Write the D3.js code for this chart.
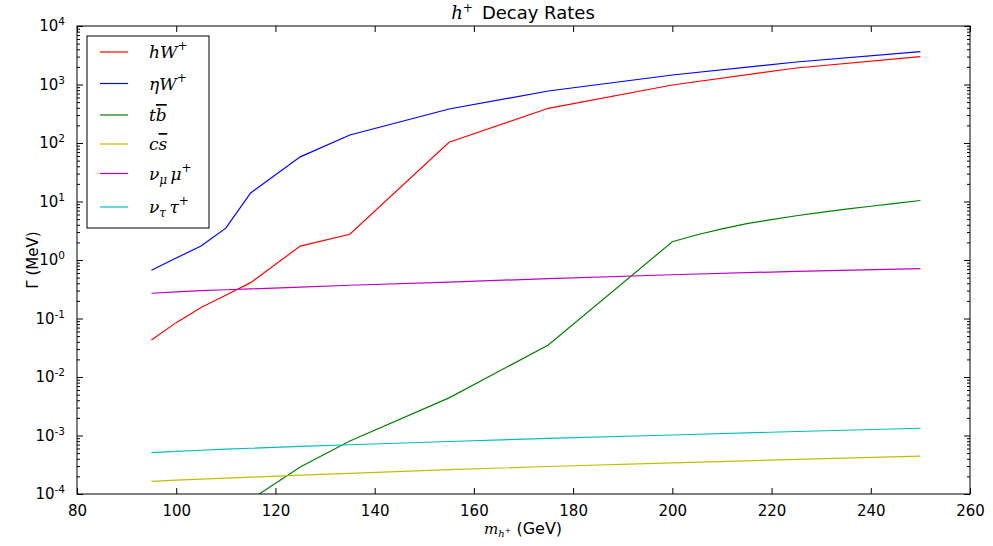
<!DOCTYPE html>
<html>
<head>
<meta charset="utf-8">
<script src="https://cdn.jsdelivr.net/npm/d3@7"></script>
<style>
  body { margin: 0; background: #fff; }
  svg { display: block; }
</style>
</head>
<body>
<svg id="chart" width="993" height="546" font-family="DejaVu Sans, sans-serif"></svg>
<script>
// Charged Higgs mass points (GeV)
const masses = [95, 100, 105, 110, 115, 125, 135, 155, 175, 200, 225, 250];
// Partial widths (MeV) on the common mass grid
const hW    = [0.043, 0.085, 0.154, 0.25, 0.41, 1.73, 2.75, 103, 392, 980, 1915, 2990];
const etaW  = [0.67, 1.08, 1.73, 3.5, 14, 58, 137, 381, 774, 1454, 2426, 3640];
const cs    = [1.65e-4, 1.73e-4, 1.8e-4, 1.87e-4, 1.94e-4, 2.1e-4, 2.25e-4, 2.6e-4, 2.95e-4, 3.4e-4, 3.9e-4, 4.45e-4];
const numu  = [0.27, 0.285, 0.30, 0.31, 0.32, 0.345, 0.37, 0.42, 0.48, 0.56, 0.64, 0.71];
const nutau = [5.1e-4, 5.35e-4, 5.6e-4, 5.85e-4, 6.05e-4, 6.5e-4, 6.95e-4, 7.9e-4, 8.9e-4, 1.02e-3, 1.17e-3, 1.33e-3];
// t b-bar channel has its own, finer grid above threshold
const tbMasses = [115, 125, 135, 155, 175, 200, 205, 210, 215, 220, 225, 230, 235, 240, 245, 250];
const tb       = [8e-5, 2.9e-4, 8.05e-4, 4.4e-3, 0.0352, 2.05, 2.7, 3.4, 4.2, 4.9, 5.7, 6.5, 7.4, 8.3, 9.3, 10.4];

const xTicks = [80, 100, 120, 140, 160, 180, 200, 220, 240, 260];
const yExponents = [-4, -3, -2, -1, 0, 1, 2, 3, 4];

const series = [
  { key: "hW",    color: "#ff0000", xs: masses,   ys: hW },
  { key: "etaW",  color: "#0000ff", xs: masses,   ys: etaW },
  { key: "tb",    color: "#008000", xs: tbMasses, ys: tb },
  { key: "cs",    color: "#bfbf00", xs: masses,   ys: cs },
  { key: "numu",  color: "#bf00bf", xs: masses,   ys: numu },
  { key: "nutau", color: "#00bfbf", xs: masses,   ys: nutau }
];

const L = 77, R = 970, T = 26, B = 494;
const svg = d3.select("#chart");
const x = d3.scaleLinear().domain([80, 260]).range([L, R]);
const y = d3.scaleLog().domain([1e-4, 1e4]).range([B, T]);
const mathFont = "DejaVu Serif, serif";

svg.append("defs").append("clipPath").attr("id", "plotclip")
  .append("rect").attr("x", L).attr("y", T).attr("width", R - L).attr("height", B - T);

// data lines
const line = d3.line().x(d => x(d[0])).y(d => y(d[1]));
const plot = svg.append("g").attr("clip-path", "url(#plotclip)");
series.forEach(s => {
  plot.append("path")
    .datum(s.xs.map((m, i) => [m, s.ys[i]]))
    .attr("d", line)
    .attr("fill", "none")
    .attr("stroke", s.color)
    .attr("stroke-width", 1.2);
});

// minor log ticks
const minor = [];
for (let e = -4; e < 4; e++) for (let k = 2; k <= 9; k++) minor.push(k * Math.pow(10, e));
const majorY = yExponents.map(e => Math.pow(10, e));

function styleAxis(g) {
  g.select(".domain").remove();
  g.selectAll("line").attr("stroke", "#000").attr("stroke-width", 1);
}

// left axis: inward ticks
svg.append("g").attr("transform", `translate(${L},0)`)
  .call(d3.axisLeft(y).tickValues(minor).tickSize(-3).tickFormat(""))
  .call(styleAxis).selectAll("text").remove();
const leftMajor = svg.append("g").attr("transform", `translate(${L},0)`)
  .call(d3.axisLeft(y).tickValues(majorY).tickSize(-6).tickPadding(12).tickFormat(""))
  .call(styleAxis);
leftMajor.selectAll(".tick text").each(function(d) {
  const t = d3.select(this);
  const e = Math.round(Math.log10(d));
  t.attr("font-size", 15).attr("font-family", "DejaVu Sans, sans-serif").attr("fill", "#000").attr("dy", "0.32em");
  t.append("tspan").text("10");
  t.append("tspan").attr("font-size", 10.5).attr("dy", "-0.6em").text(String(e));
});

// right axis: inward ticks
svg.append("g").attr("transform", `translate(${R},0)`)
  .call(d3.axisRight(y).tickValues(minor).tickSize(-3).tickFormat(""))
  .call(styleAxis).selectAll("text").remove();
svg.append("g").attr("transform", `translate(${R},0)`)
  .call(d3.axisRight(y).tickValues(majorY).tickSize(-6).tickFormat(""))
  .call(styleAxis).selectAll("text").remove();

// bottom axis
svg.append("g").attr("transform", `translate(0,${B})`)
  .call(d3.axisBottom(x).tickValues(xTicks).tickSize(-6).tickPadding(11).tickFormat(d3.format("d")))
  .call(styleAxis)
  .selectAll("text").attr("font-size", 15).attr("fill", "#000").attr("font-family", "DejaVu Sans, sans-serif");

// top axis
svg.append("g").attr("transform", `translate(0,${T})`)
  .call(d3.axisTop(x).tickValues(xTicks).tickSize(-6).tickFormat(""))
  .call(styleAxis).selectAll("text").remove();

// frame
svg.append("rect").attr("x", L).attr("y", T).attr("width", R - L).attr("height", B - T)
  .attr("fill", "none").attr("stroke", "#000").attr("stroke-width", 1);

// title
const title = svg.append("text").attr("x", 523).attr("y", 19).attr("text-anchor", "middle").attr("font-size", 18);
title.append("tspan").attr("font-family", mathFont).attr("font-style", "italic").text("h");
title.append("tspan").attr("font-family", mathFont).attr("font-size", 12).attr("dy", -7).text("+");
title.append("tspan").attr("dy", 7).text("\u2002Decay Rates");

// x label
const xl = svg.append("text").attr("x", 523).attr("y", 534).attr("text-anchor", "middle").attr("font-size", 16);
xl.append("tspan").attr("font-family", mathFont).attr("font-style", "italic").attr("font-size", 15).text("m");
xl.append("tspan").attr("font-family", mathFont).attr("font-style", "italic").attr("font-size", 10).attr("dy", 3).text("h");
xl.append("tspan").attr("font-family", mathFont).attr("font-size", 8).attr("dy", -4).text("+");
xl.append("tspan").attr("dy", 1).text(" (GeV)");

// y label
svg.append("text").attr("transform", "translate(38,260) rotate(-90)")
  .attr("text-anchor", "middle").attr("font-size", 15).text("\u0393 (MeV)");

// legend
const lg = svg.append("g");
lg.append("rect").attr("x", 87).attr("y", 36).attr("width", 122).attr("height", 192)
  .attr("fill", "#fff").attr("stroke", "#000").attr("stroke-width", 1);
const legendY = [52, 83.5, 115, 144, 173.5, 207];
function label(g, parts) {
  const t = g.append("text").attr("x", 149).attr("y", 6).attr("font-size", 17).attr("font-family", mathFont);
  parts.forEach(p => {
    const ts = t.append("tspan").text(p.t);
    if (p.it !== false) ts.attr("font-style", "italic");
    if (p.size) ts.attr("font-size", p.size);
    if (p.dy) ts.attr("dy", p.dy);
    if (p.over) ts.style("text-decoration", "overline");
  });
  return t;
}
const legendParts = [
  [{ t: "hW" }, { t: "+", it: false, size: 12, dy: -8 }],
  [{ t: "\u03b7W" }, { t: "+", it: false, size: 12, dy: -8 }],
  [{ t: "t" }, { t: "b", over: true }],
  [{ t: "c" }, { t: "s", over: true }],
  [{ t: "\u03bd" }, { t: "\u03bc", size: 12, dy: 4 }, { t: "\u2009\u03bc", dy: -4 }, { t: "+", it: false, size: 12, dy: -8 }],
  [{ t: "\u03bd" }, { t: "\u03c4", size: 12, dy: 4 }, { t: "\u2009\u03c4", dy: -4 }, { t: "+", it: false, size: 12, dy: -8 }]
];
series.forEach((s, i) => {
  const g = lg.append("g").attr("transform", `translate(0,${legendY[i]})`);
  g.append("line").attr("x1", 100).attr("x2", 128).attr("y1", 0).attr("y2", 0)
    .attr("stroke", s.color).attr("stroke-width", 1.2);
  label(g, legendParts[i]);
});
</script>
</body>
</html>
